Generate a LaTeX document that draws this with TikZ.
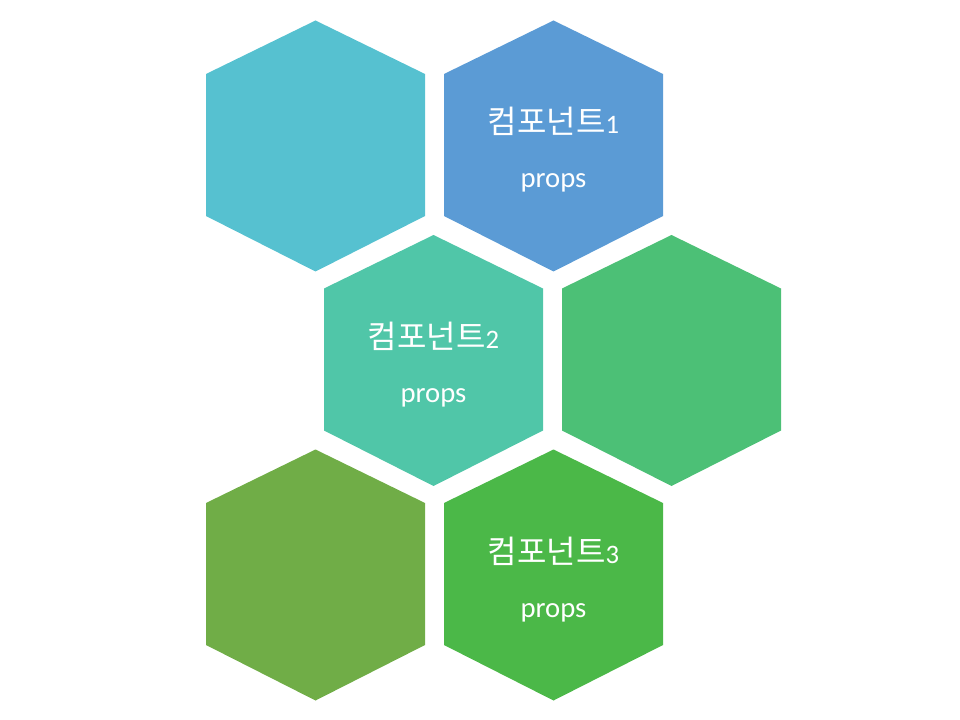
\documentclass[tikz,border=0pt]{standalone}
\usepackage{fontspec}
\setmainfont{Carlito}
\newfontfamily\cjk{Noto Sans CJK KR}
\definecolor{cA}{RGB}{86,193,208}
\definecolor{cB}{RGB}{91,155,213}
\definecolor{cC}{RGB}{80,198,168}
\definecolor{cD}{RGB}{76,192,118}
\definecolor{cE}{RGB}{112,173,71}
\definecolor{cF}{RGB}{75,184,72}
\tikzset{
  hexfill/.style={fill=#1, draw=none},
  titletext/.style={text=white, anchor=base, inner sep=0pt, font=\fontsize{20}{24}\selectfont},
  propstext/.style={text=white, anchor=base, inner sep=0pt, font=\fontsize{21.5}{25}\selectfont},
}
\newcommand{\hexat}[4]{% name, cx, cy, color
  \fill[hexfill=#4] (#2,#3-125.5) -- (#2+109.5,#3-72) -- (#2+109.5,#3+70) -- (#2,#3+125.5) -- (#2-109.5,#3+70) -- (#2-109.5,#3-72) -- cycle;
  \coordinate (#1) at (#2,#3);
}
\begin{document}
\begin{tikzpicture}[x=0.75pt,y=-0.75pt]
\useasboundingbox (0,0) rectangle (960,720);
\hexat{h1}{315.5}{146}{cA}
\hexat{h2}{553.5}{146}{cB}
\hexat{h3}{433.5}{360.5}{cC}
\hexat{h4}{671.5}{360.5}{cD}
\hexat{h5}{315.5}{575}{cE}
\hexat{h6}{553.5}{575}{cF}
\node[titletext] (t2) at ([yshift=9pt]h2) {{\cjk\fontsize{24}{28}\selectfont 컴포넌트}1};
\node[propstext] (p2) at ([yshift=-31.5pt]h2) {props};
\node[titletext] (t3) at ([yshift=9pt]h3) {{\cjk\fontsize{24}{28}\selectfont 컴포넌트}2};
\node[propstext] (p3) at ([yshift=-31.5pt]h3) {props};
\node[titletext] (t6) at ([yshift=9pt]h6) {{\cjk\fontsize{24}{28}\selectfont 컴포넌트}3};
\node[propstext] (p6) at ([yshift=-31.5pt]h6) {props};
\end{tikzpicture}
\end{document}
